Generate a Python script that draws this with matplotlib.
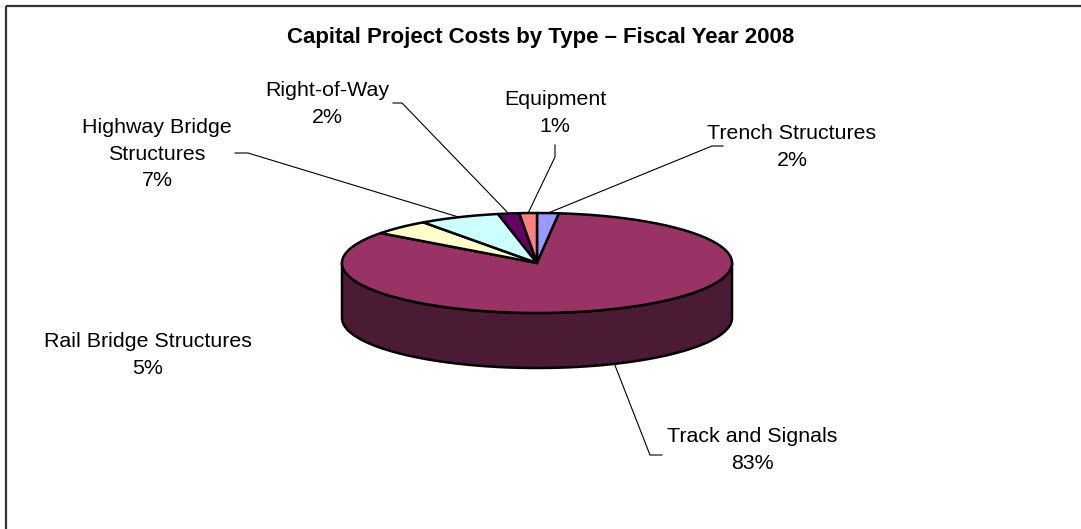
import numpy as np
import matplotlib
matplotlib.use('Agg')
import matplotlib.pyplot as plt
from matplotlib.patches import Polygon, Rectangle

# Data (slices in clockwise order, starting at 12 o'clock)
categories = ['Trench Structures', 'Track and Signals', 'Rail Bridge Structures',
              'Highway Bridge\nStructures', 'Right-of-Way', 'Equipment']
shares = [1.8, 83.4, 4.9, 6.7, 1.75, 1.45]
colors = ['#9999FF', '#993366', '#FFFFCC', '#CCFFFF', '#660066', '#FF8080']
side_colors = ['#5C5C99', '#4B1A34', '#99997A', '#7A9999', '#3D003D', '#994D4D']
title = 'Capital Project Costs by Type \u2013 Fiscal Year 2008'

# Layout (pixel space of the 1081x529 picture)
cx, cy, rx, ry, depth = 537, 263, 195, 50, 55
label_pos = [(792, 147), (752, 450), (148, 355), (157, 154), (327, 104), (555, 113)]
leader_bends = [[(712, 146), (723, 146)],
                [(650, 455), (662, 455)],
                None,
                [(248, 153), (235, 153)],
                [(402, 103), (393, 103)],
                [(555, 157), (555, 145)]]

plt.rcParams['font.family'] = ['Liberation Sans', 'DejaVu Sans']

fig = plt.figure(figsize=(10.81, 5.29), dpi=100)
ax = fig.add_axes([0, 0, 1, 1])
ax.set_xlim(0, 1081)
ax.set_ylim(529, 0)
ax.axis('off')


def rim(theta, drop=0.0):
    t = np.radians(theta)
    return cx + rx * np.cos(t), cy - ry * np.sin(t) + drop


total = sum(shares)
bounds = []
start = 90.0
for s in shares:
    end = start - s / total * 360.0
    bounds.append((start, end))
    start = end

# side walls (front half only)
for (t1, t2), col in zip(bounds, side_colors):
    for lo, hi in [(-180.0, 0.0), (-540.0, -360.0)]:
        a, b = max(t2, lo), min(t1, hi)
        if b <= a:
            continue
        th = np.linspace(a, b, 80)
        xt, yt = rim(th)
        xb, yb = rim(th[::-1], depth)
        pts = np.column_stack([np.concatenate([xt, xb]), np.concatenate([yt, yb])])
        ax.add_patch(Polygon(pts, closed=True, facecolor=col, edgecolor='black',
                             lw=1.8, joinstyle='round'))

# top faces
for (t1, t2), col in zip(bounds, colors):
    th = np.linspace(t1, t2, max(4, int(abs(t1 - t2)) * 2))
    xs, ys = rim(th)
    pts = np.column_stack([np.concatenate([[cx], xs]), np.concatenate([[cy], ys])])
    ax.add_patch(Polygon(pts, closed=True, facecolor=col, edgecolor='black',
                         lw=1.8, joinstyle='round'))

# labels and leader lines
for (t1, t2), name, s, pos, bend in zip(bounds, categories, shares, label_pos, leader_bends):
    ax.text(pos[0], pos[1], f'{name}\n{round(s / total * 100)}%', ha='center', va='center',
            multialignment='center', fontsize=15.4, linespacing=1.5, color='black')
    if bend is None:
        continue
    mid = (t1 + t2) / 2
    drop = depth if np.sin(np.radians(mid)) < 0 else 0
    x0, y0 = rim(mid, drop)
    xs = [x0] + [p[0] for p in bend]
    ys = [y0] + [p[1] for p in bend]
    ax.plot(xs, ys, color='black', lw=0.8)

ax.text(541, 37, title, ha='center', va='center', fontsize=16, fontweight='bold')

ax.add_patch(Rectangle((5.5, 5.5), 1200, 700, fill=False, edgecolor='#333333', lw=1.6))

fig.savefig('out.png', dpi=100)
